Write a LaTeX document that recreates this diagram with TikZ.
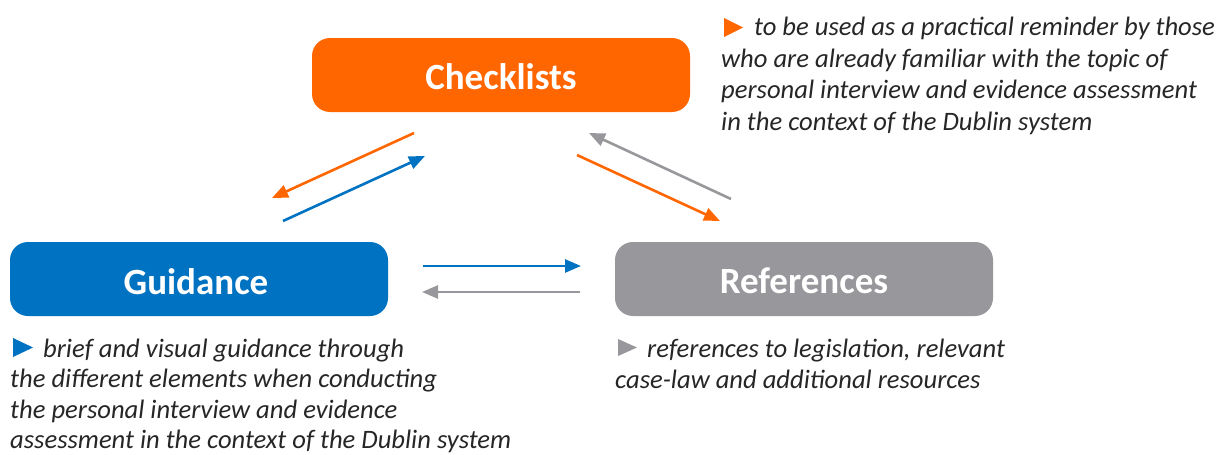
\documentclass[tikz,border=0pt]{standalone}
\usepackage{fontspec}
\setmainfont{Carlito}
\usetikzlibrary{arrows.meta}
\definecolor{corange}{RGB}{255,102,0}
\definecolor{cblue}{RGB}{0,114,194}
\definecolor{cgray}{RGB}{152,152,156}
\definecolor{ctext}{RGB}{38,38,38}
\tikzset{
  box/.style={draw=none, fill=#1, rounded corners=18pt, minimum width=378pt, minimum height=74pt, inner sep=0pt},
  boxtext/.style={text=white, font=\fontsize{37}{44}\selectfont\bfseries, anchor=base, inner sep=0pt},
  desc/.style={text=ctext, font=\fontsize{26.6}{32}\selectfont\itshape, anchor=base west, inner sep=0pt},
  link/.style={draw=#1, line width=2.6pt, -{Triangle[length=16pt,width=13pt]}}
}
\begin{document}
\begin{tikzpicture}[x=1pt,y=-1pt]
\useasboundingbox (0,0) rectangle (1216,455);
% boxes
\node[box=corange] (chk) at (501,75) {};
\node[box=cblue] (gui) at (199,279) {};
\node[box=cgray] (ref) at (804,279) {};
\node[boxtext] (chkt) at (501,89) {Checklists};
\node[boxtext] (guit) at (196,294) {Guidance};
\node[boxtext] (reft) at (804,293) {References};
% arrows
\coordinate (a1s) at (414,133); \coordinate (a1e) at (272,198);
\coordinate (a2s) at (283,221); \coordinate (a2e) at (425,156);
\coordinate (a3s) at (731,199); \coordinate (a3e) at (589,133);
\coordinate (a4s) at (577,155); \coordinate (a4e) at (720,221);
\coordinate (a5s) at (423,266); \coordinate (a5e) at (581,266);
\coordinate (a6s) at (580,292); \coordinate (a6e) at (422,292);
\draw[link=corange] (a1s) -- (a1e);
\draw[link=cblue] (a2s) -- (a2e);
\draw[link=cgray] (a3s) -- (a3e);
\draw[link=corange] (a4s) -- (a4e);
\draw[link=cblue] (a5s) -- (a5e);
\draw[link=cgray] (a6s) -- (a6e);
% bullets
\fill[corange] (724,18) -- (724,37) -- (743,27.5) -- cycle;
\fill[cblue] (13,338) -- (13,357) -- (33,347.5) -- cycle;
\fill[cgray] (618,339) -- (618,356) -- (637,347.5) -- cycle;
% checklists description
\node[desc] (c1) at (754,35) {to be used as a practical reminder by those};
\node[desc] (c2) at (721,67) {who are already familiar with the topic of};
\node[desc] (c3) at (721,98.5) {personal interview and evidence assessment};
\node[desc] (c4) at (721,130) {in the context of the Dublin system};
% guidance description
\node[desc] (g1) at (43,357) {brief and visual guidance through};
\node[desc] (g2) at (10,387.5) {the different elements when conducting};
\node[desc] (g3) at (10,418) {the personal interview and evidence};
\node[desc] (g4) at (10,448) {assessment in the context of the Dublin system};
% references description
\node[desc] (r1) at (647,357) {references to legislation, relevant};
\node[desc] (r2) at (615,388) {case-law and additional resources};
\end{tikzpicture}
\end{document}
